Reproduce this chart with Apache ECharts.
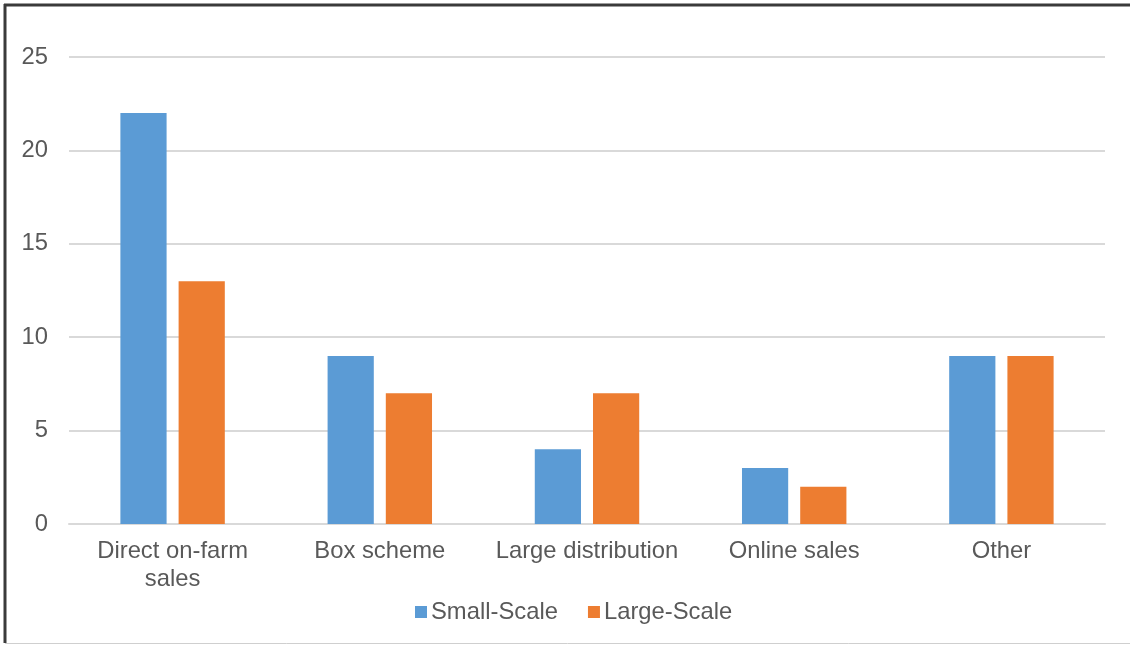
<!DOCTYPE html>
<html>
<head>
<meta charset="utf-8">
<script src="https://cdn.jsdelivr.net/npm/echarts@6/dist/echarts.min.js"></script>
<style>
html,body{margin:0;padding:0;background:#fff;}
#chart{width:1130px;height:645px;}
</style>
</head>
<body>
<div id="chart"></div>
<script>
const categories = ['Direct on-farm\nsales', 'Box scheme', 'Large distribution', 'Online sales', 'Other'];
const smallScale = [22, 9, 4, 3, 9];
const largeScale = [13, 7, 7, 2, 9];
const seriesNames = ['Small-Scale', 'Large-Scale'];
const yTicks = {min: 0, max: 25, interval: 5};

const font = '"Liberation Sans", Arial, sans-serif';
const textColor = '#595959';
const chart = echarts.init(document.getElementById('chart'), null, {renderer: 'canvas'});
chart.setOption({
  animation: false,
  backgroundColor: '#fff',
  color: ['#5B9BD5', '#ED7D31'],
  grid: {left: 69, right: 25, top: 57, bottom: 121, containLabel: false},
  legend: {
    data: seriesNames,
    top: 595,
    left: 410,
    itemWidth: 12,
    itemHeight: 12,
    itemGap: 30,
    icon: 'rect',
    textStyle: {fontFamily: font, fontSize: 23.8, color: textColor, lineHeight: 24, padding: [0,0,0,-1]}
  },
  xAxis: {
    type: 'category',
    data: categories,
    axisLine: {lineStyle: {color: '#d9d9d9', width: 2}},
    axisTick: {show: false},
    axisLabel: {fontFamily: font, fontSize: 23.8, color: textColor, lineHeight: 28, margin: 13, interval: 0}
  },
  yAxis: {
    type: 'value',
    min: yTicks.min, max: yTicks.max, interval: yTicks.interval,
    axisLine: {show: false},
    axisTick: {show: false},
    splitLine: {lineStyle: {color: '#d9d9d9', width: 2}},
    axisLabel: {fontFamily: font, fontSize: 23.8, color: textColor, margin: 21, padding: [4,0,0,0]}
  },
  series: [
    {name: seriesNames[0], type: 'bar', data: smallScale, barWidth: '22.3%', barGap: '26%'},
    {name: seriesNames[1], type: 'bar', data: largeScale, barWidth: '22.3%', barGap: '26%'}
  ],
  graphic: [
    {type: 'line', shape: {x1: 4, y1: 5, x2: 1130, y2: 5}, style: {stroke: '#3a3a3a', lineWidth: 3}},
    {type: 'line', shape: {x1: 5, y1: 4, x2: 5, y2: 643}, style: {stroke: '#3a3a3a', lineWidth: 3}},
    {type: 'line', shape: {x1: 5, y1: 643.5, x2: 1130, y2: 643.5}, style: {stroke: '#cfcfcf', lineWidth: 1}}
  ]
});
</script>
</body>
</html>
